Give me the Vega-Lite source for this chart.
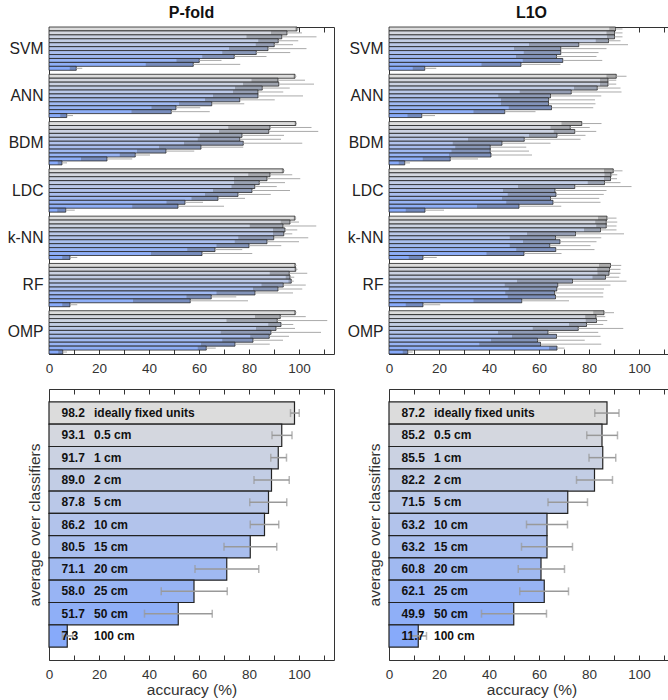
{
  "$schema": "https://vega.github.io/schema/vega-lite/v6.json",
  "padding": {"left": 6, "top": 4, "right": 0, "bottom": 0},
  "config": {
    "font": "Liberation Sans",
    "view": {"stroke": "#333", "strokeWidth": 1},
    "axis": {"labelFont": "Liberation Sans", "titleFont": "Liberation Sans", "labelColor": "#333", "titleColor": "#333", "titleFontWeight": "normal", "grid": false, "domainColor": "#333", "tickColor": "#333"},
    "title": {"font": "Liberation Sans", "fontSize": 16, "fontWeight": "bold", "color": "#111", "offset": 6}
  },
  "datasets": {
    "top": [
      {"panel":"P-fold","clf":"SVM","cond":"ideally fixed units","acc":99.2,"lo":98.5,"hi":99.9},
      {"panel":"P-fold","clf":"SVM","cond":"0.5 cm","acc":95.2,"lo":88.8,"hi":101.2},
      {"panel":"P-fold","clf":"SVM","cond":"1 cm","acc":93.1,"lo":79,"hi":107},
      {"panel":"P-fold","clf":"SVM","cond":"2 cm","acc":91.7,"lo":83.7,"hi":99.7},
      {"panel":"P-fold","clf":"SVM","cond":"5 cm","acc":90.1,"lo":82.7,"hi":97.6},
      {"panel":"P-fold","clf":"SVM","cond":"10 cm","acc":87.6,"lo":72,"hi":103},
      {"panel":"P-fold","clf":"SVM","cond":"15 cm","acc":82.9,"lo":69.3,"hi":96.5},
      {"panel":"P-fold","clf":"SVM","cond":"20 cm","acc":74.1,"lo":61.3,"hi":87},
      {"panel":"P-fold","clf":"SVM","cond":"25 cm","acc":60.1,"lo":51,"hi":69},
      {"panel":"P-fold","clf":"SVM","cond":"50 cm","acc":57.7,"lo":38.7,"hi":76.5},
      {"panel":"P-fold","clf":"SVM","cond":"100 cm","acc":10.9,"lo":8.3,"hi":13.3},
      {"panel":"P-fold","clf":"ANN","cond":"ideally fixed units","acc":98.4,"lo":97.8,"hi":99},
      {"panel":"P-fold","clf":"ANN","cond":"0.5 cm","acc":91.6,"lo":81,"hi":102.4},
      {"panel":"P-fold","clf":"ANN","cond":"1 cm","acc":91.9,"lo":77.6,"hi":106},
      {"panel":"P-fold","clf":"ANN","cond":"2 cm","acc":85.3,"lo":74.4,"hi":96.3},
      {"panel":"P-fold","clf":"ANN","cond":"5 cm","acc":83.6,"lo":73.6,"hi":93.7},
      {"panel":"P-fold","clf":"ANN","cond":"10 cm","acc":83.6,"lo":65.6,"hi":101.6},
      {"panel":"P-fold","clf":"ANN","cond":"15 cm","acc":76.3,"lo":62.4,"hi":90.3},
      {"panel":"P-fold","clf":"ANN","cond":"20 cm","acc":65.1,"lo":52,"hi":78.1},
      {"panel":"P-fold","clf":"ANN","cond":"25 cm","acc":50.8,"lo":41,"hi":60.5},
      {"panel":"P-fold","clf":"ANN","cond":"50 cm","acc":48.9,"lo":33,"hi":64.3},
      {"panel":"P-fold","clf":"ANN","cond":"100 cm","acc":7.1,"lo":4.5,"hi":9.6},
      {"panel":"P-fold","clf":"BDM","cond":"ideally fixed units","acc":98.7,"lo":98.2,"hi":99.2},
      {"panel":"P-fold","clf":"BDM","cond":"0.5 cm","acc":88.4,"lo":71.7,"hi":105},
      {"panel":"P-fold","clf":"BDM","cond":"1 cm","acc":87.9,"lo":68,"hi":107.7},
      {"panel":"P-fold","clf":"BDM","cond":"2 cm","acc":77.2,"lo":60.3,"hi":94},
      {"panel":"P-fold","clf":"BDM","cond":"5 cm","acc":76.3,"lo":59.5,"hi":92.8},
      {"panel":"P-fold","clf":"BDM","cond":"10 cm","acc":77.7,"lo":54,"hi":101.3},
      {"panel":"P-fold","clf":"BDM","cond":"15 cm","acc":60.8,"lo":44,"hi":77.7},
      {"panel":"P-fold","clf":"BDM","cond":"20 cm","acc":46.8,"lo":35.2,"hi":58.1},
      {"panel":"P-fold","clf":"BDM","cond":"25 cm","acc":34.5,"lo":28.3,"hi":40.4},
      {"panel":"P-fold","clf":"BDM","cond":"50 cm","acc":23.2,"lo":12.8,"hi":33.3},
      {"panel":"P-fold","clf":"BDM","cond":"100 cm","acc":5.2,"lo":3.5,"hi":7.2},
      {"panel":"P-fold","clf":"LDC","cond":"ideally fixed units","acc":93.7,"lo":93.1,"hi":94.3},
      {"panel":"P-fold","clf":"LDC","cond":"0.5 cm","acc":88.4,"lo":79.7,"hi":97.3},
      {"panel":"P-fold","clf":"LDC","cond":"1 cm","acc":87.2,"lo":74,"hi":100.5},
      {"panel":"P-fold","clf":"LDC","cond":"2 cm","acc":84.1,"lo":74,"hi":94.4},
      {"panel":"P-fold","clf":"LDC","cond":"5 cm","acc":82.3,"lo":73,"hi":91.1},
      {"panel":"P-fold","clf":"LDC","cond":"10 cm","acc":81.2,"lo":65.6,"hi":96.4},
      {"panel":"P-fold","clf":"LDC","cond":"15 cm","acc":75.6,"lo":62.4,"hi":88.7},
      {"panel":"P-fold","clf":"LDC","cond":"20 cm","acc":67.6,"lo":57,"hi":78.4},
      {"panel":"P-fold","clf":"LDC","cond":"25 cm","acc":54.4,"lo":47,"hi":61.6},
      {"panel":"P-fold","clf":"LDC","cond":"50 cm","acc":51.6,"lo":33.3,"hi":70},
      {"panel":"P-fold","clf":"LDC","cond":"100 cm","acc":6.7,"lo":3.3,"hi":10.3},
      {"panel":"P-fold","clf":"k-NN","cond":"ideally fixed units","acc":98.4,"lo":97.9,"hi":98.9},
      {"panel":"P-fold","clf":"k-NN","cond":"0.5 cm","acc":96.4,"lo":92.7,"hi":100},
      {"panel":"P-fold","clf":"k-NN","cond":"1 cm","acc":93.6,"lo":80.3,"hi":106.9},
      {"panel":"P-fold","clf":"k-NN","cond":"2 cm","acc":94.4,"lo":89.6,"hi":99.3},
      {"panel":"P-fold","clf":"k-NN","cond":"5 cm","acc":93.9,"lo":89.6,"hi":97.3},
      {"panel":"P-fold","clf":"k-NN","cond":"10 cm","acc":89.9,"lo":75.7,"hi":103.7},
      {"panel":"P-fold","clf":"k-NN","cond":"15 cm","acc":87.2,"lo":74.3,"hi":100},
      {"panel":"P-fold","clf":"k-NN","cond":"20 cm","acc":80,"lo":67,"hi":92.9},
      {"panel":"P-fold","clf":"k-NN","cond":"25 cm","acc":66.4,"lo":55.3,"hi":77.3},
      {"panel":"P-fold","clf":"k-NN","cond":"50 cm","acc":61.2,"lo":40.8,"hi":81.3},
      {"panel":"P-fold","clf":"k-NN","cond":"100 cm","acc":8.4,"lo":5.3,"hi":11.3},
      {"panel":"P-fold","clf":"RF","cond":"ideally fixed units","acc":98.5,"lo":98,"hi":99},
      {"panel":"P-fold","clf":"RF","cond":"0.5 cm","acc":98.7,"lo":98.1,"hi":99.4},
      {"panel":"P-fold","clf":"RF","cond":"1 cm","acc":96.1,"lo":88.3,"hi":103.3},
      {"panel":"P-fold","clf":"RF","cond":"2 cm","acc":96.4,"lo":94.7,"hi":98.1},
      {"panel":"P-fold","clf":"RF","cond":"5 cm","acc":96.9,"lo":95.8,"hi":97.9},
      {"panel":"P-fold","clf":"RF","cond":"10 cm","acc":93.7,"lo":85,"hi":102.7},
      {"panel":"P-fold","clf":"RF","cond":"15 cm","acc":91.6,"lo":81.6,"hi":101.3},
      {"panel":"P-fold","clf":"RF","cond":"20 cm","acc":82.4,"lo":67,"hi":97.6},
      {"panel":"P-fold","clf":"RF","cond":"25 cm","acc":64.9,"lo":55,"hi":74.9},
      {"panel":"P-fold","clf":"RF","cond":"50 cm","acc":56.5,"lo":33.6,"hi":79.6},
      {"panel":"P-fold","clf":"RF","cond":"100 cm","acc":8.4,"lo":5.3,"hi":11.3},
      {"panel":"P-fold","clf":"OMP","cond":"ideally fixed units","acc":98.5,"lo":98,"hi":99},
      {"panel":"P-fold","clf":"OMP","cond":"0.5 cm","acc":92.5,"lo":82.4,"hi":102.7},
      {"panel":"P-fold","clf":"OMP","cond":"1 cm","acc":91.3,"lo":71,"hi":111.3},
      {"panel":"P-fold","clf":"OMP","cond":"2 cm","acc":92.8,"lo":87.7,"hi":97.7},
      {"panel":"P-fold","clf":"OMP","cond":"5 cm","acc":90.8,"lo":82.8,"hi":98.4},
      {"panel":"P-fold","clf":"OMP","cond":"10 cm","acc":88.8,"lo":68.7,"hi":108.8},
      {"panel":"P-fold","clf":"OMP","cond":"15 cm","acc":88.1,"lo":80.5,"hi":96},
      {"panel":"P-fold","clf":"OMP","cond":"20 cm","acc":81.6,"lo":69.3,"hi":93.6},
      {"panel":"P-fold","clf":"OMP","cond":"25 cm","acc":74.4,"lo":60.8,"hi":88.3},
      {"panel":"P-fold","clf":"OMP","cond":"50 cm","acc":62.9,"lo":59.5,"hi":66.7},
      {"panel":"P-fold","clf":"OMP","cond":"100 cm","acc":5.5,"lo":3.7,"hi":7.2},
      {"panel":"L1O","clf":"SVM","cond":"ideally fixed units","acc":90.6,"lo":88.1,"hi":93.4},
      {"panel":"L1O","clf":"SVM","cond":"0.5 cm","acc":90.2,"lo":87,"hi":93.4},
      {"panel":"L1O","clf":"SVM","cond":"1 cm","acc":90.2,"lo":87.2,"hi":93.4},
      {"panel":"L1O","clf":"SVM","cond":"2 cm","acc":87.8,"lo":82.7,"hi":92.6},
      {"panel":"L1O","clf":"SVM","cond":"5 cm","acc":75.9,"lo":56,"hi":95.6},
      {"panel":"L1O","clf":"SVM","cond":"10 cm","acc":68.7,"lo":50,"hi":87},
      {"panel":"L1O","clf":"SVM","cond":"15 cm","acc":68.7,"lo":53.9,"hi":83.8},
      {"panel":"L1O","clf":"SVM","cond":"20 cm","acc":67,"lo":50.8,"hi":83},
      {"panel":"L1O","clf":"SVM","cond":"25 cm","acc":69.5,"lo":53.5,"hi":85.3},
      {"panel":"L1O","clf":"SVM","cond":"50 cm","acc":52.8,"lo":37,"hi":68.6},
      {"panel":"L1O","clf":"SVM","cond":"100 cm","acc":14.3,"lo":9.5,"hi":18.9},
      {"panel":"L1O","clf":"ANN","cond":"ideally fixed units","acc":90.9,"lo":87,"hi":95},
      {"panel":"L1O","clf":"ANN","cond":"0.5 cm","acc":87.6,"lo":84.4,"hi":90.9},
      {"panel":"L1O","clf":"ANN","cond":"1 cm","acc":87.6,"lo":84.4,"hi":90.9},
      {"panel":"L1O","clf":"ANN","cond":"2 cm","acc":83.3,"lo":74,"hi":92.6},
      {"panel":"L1O","clf":"ANN","cond":"5 cm","acc":72.9,"lo":52.3,"hi":93},
      {"panel":"L1O","clf":"ANN","cond":"10 cm","acc":64.6,"lo":43.7,"hi":84.9},
      {"panel":"L1O","clf":"ANN","cond":"15 cm","acc":63.8,"lo":44.8,"hi":82.4},
      {"panel":"L1O","clf":"ANN","cond":"20 cm","acc":63.8,"lo":44.8,"hi":82.6},
      {"panel":"L1O","clf":"ANN","cond":"25 cm","acc":65,"lo":47.9,"hi":81.7},
      {"panel":"L1O","clf":"ANN","cond":"50 cm","acc":46.3,"lo":33.8,"hi":58.6},
      {"panel":"L1O","clf":"ANN","cond":"100 cm","acc":13.1,"lo":7.4,"hi":18.4},
      {"panel":"L1O","clf":"BDM","cond":"ideally fixed units","acc":77.1,"lo":69,"hi":85},
      {"panel":"L1O","clf":"BDM","cond":"0.5 cm","acc":72.5,"lo":64.6,"hi":80.3},
      {"panel":"L1O","clf":"BDM","cond":"1 cm","acc":74.3,"lo":65.9,"hi":82.9},
      {"panel":"L1O","clf":"BDM","cond":"2 cm","acc":67.2,"lo":56,"hi":78.6},
      {"panel":"L1O","clf":"BDM","cond":"5 cm","acc":54.1,"lo":31.6,"hi":76.6},
      {"panel":"L1O","clf":"BDM","cond":"10 cm","acc":45.2,"lo":25.5,"hi":64.6},
      {"panel":"L1O","clf":"BDM","cond":"15 cm","acc":40.5,"lo":26.5,"hi":54.9},
      {"panel":"L1O","clf":"BDM","cond":"20 cm","acc":40.5,"lo":25,"hi":56},
      {"panel":"L1O","clf":"BDM","cond":"25 cm","acc":40.8,"lo":24,"hi":57.2},
      {"panel":"L1O","clf":"BDM","cond":"50 cm","acc":24.5,"lo":13.5,"hi":35.6},
      {"panel":"L1O","clf":"BDM","cond":"100 cm","acc":6.3,"lo":3.9,"hi":8.4},
      {"panel":"L1O","clf":"LDC","cond":"ideally fixed units","acc":89.7,"lo":86,"hi":93.4},
      {"panel":"L1O","clf":"LDC","cond":"0.5 cm","acc":88.8,"lo":86.2,"hi":91.3},
      {"panel":"L1O","clf":"LDC","cond":"1 cm","acc":88.6,"lo":86,"hi":91.2},
      {"panel":"L1O","clf":"LDC","cond":"2 cm","acc":86.2,"lo":79.5,"hi":92.6},
      {"panel":"L1O","clf":"LDC","cond":"5 cm","acc":74.3,"lo":51.6,"hi":97},
      {"panel":"L1O","clf":"LDC","cond":"10 cm","acc":66.4,"lo":45.6,"hi":87},
      {"panel":"L1O","clf":"LDC","cond":"15 cm","acc":66.8,"lo":47.5,"hi":85.9},
      {"panel":"L1O","clf":"LDC","cond":"20 cm","acc":64.6,"lo":45.2,"hi":84.1},
      {"panel":"L1O","clf":"LDC","cond":"25 cm","acc":65.6,"lo":46.9,"hi":84.6},
      {"panel":"L1O","clf":"LDC","cond":"50 cm","acc":52,"lo":35.2,"hi":68.9},
      {"panel":"L1O","clf":"LDC","cond":"100 cm","acc":14.4,"lo":6.7,"hi":22},
      {"panel":"L1O","clf":"k-NN","cond":"ideally fixed units","acc":87.2,"lo":83.6,"hi":91},
      {"panel":"L1O","clf":"k-NN","cond":"0.5 cm","acc":86.9,"lo":82.5,"hi":91.3},
      {"panel":"L1O","clf":"k-NN","cond":"1 cm","acc":86.9,"lo":82.9,"hi":91},
      {"panel":"L1O","clf":"k-NN","cond":"2 cm","acc":84.6,"lo":78,"hi":91},
      {"panel":"L1O","clf":"k-NN","cond":"5 cm","acc":74.6,"lo":55.2,"hi":94},
      {"panel":"L1O","clf":"k-NN","cond":"10 cm","acc":66.6,"lo":48.3,"hi":84.9},
      {"panel":"L1O","clf":"k-NN","cond":"15 cm","acc":68.4,"lo":53.6,"hi":83},
      {"panel":"L1O","clf":"k-NN","cond":"20 cm","acc":64.3,"lo":48.3,"hi":80.6},
      {"panel":"L1O","clf":"k-NN","cond":"25 cm","acc":66.7,"lo":50.9,"hi":82.2},
      {"panel":"L1O","clf":"k-NN","cond":"50 cm","acc":54,"lo":39,"hi":69},
      {"panel":"L1O","clf":"k-NN","cond":"100 cm","acc":13.6,"lo":7.9,"hi":19.1},
      {"panel":"L1O","clf":"RF","cond":"ideally fixed units","acc":88.6,"lo":84,"hi":92.9},
      {"panel":"L1O","clf":"RF","cond":"0.5 cm","acc":88.2,"lo":83.3,"hi":92.6},
      {"panel":"L1O","clf":"RF","cond":"1 cm","acc":88,"lo":83.4,"hi":92.6},
      {"panel":"L1O","clf":"RF","cond":"2 cm","acc":86.6,"lo":81.4,"hi":92.1},
      {"panel":"L1O","clf":"RF","cond":"5 cm","acc":73.4,"lo":51.2,"hi":95},
      {"panel":"L1O","clf":"RF","cond":"10 cm","acc":67.5,"lo":46.3,"hi":88.6},
      {"panel":"L1O","clf":"RF","cond":"15 cm","acc":67.1,"lo":47.9,"hi":86},
      {"panel":"L1O","clf":"RF","cond":"20 cm","acc":66.2,"lo":46.5,"hi":85.7},
      {"panel":"L1O","clf":"RF","cond":"25 cm","acc":66.6,"lo":47.5,"hi":85.7},
      {"panel":"L1O","clf":"RF","cond":"50 cm","acc":53.1,"lo":33.8,"hi":72},
      {"panel":"L1O","clf":"RF","cond":"100 cm","acc":13.6,"lo":6.7,"hi":20.5},
      {"panel":"L1O","clf":"OMP","cond":"ideally fixed units","acc":86,"lo":81.7,"hi":90},
      {"panel":"L1O","clf":"OMP","cond":"0.5 cm","acc":82.8,"lo":78.5,"hi":86.5},
      {"panel":"L1O","clf":"OMP","cond":"1 cm","acc":83,"lo":78.7,"hi":87.3},
      {"panel":"L1O","clf":"OMP","cond":"2 cm","acc":79,"lo":72,"hi":85.7},
      {"panel":"L1O","clf":"OMP","cond":"5 cm","acc":75.7,"lo":57.5,"hi":93.7},
      {"panel":"L1O","clf":"OMP","cond":"10 cm","acc":63.6,"lo":43.6,"hi":83.7},
      {"panel":"L1O","clf":"OMP","cond":"15 cm","acc":67,"lo":49.2,"hi":84.6},
      {"panel":"L1O","clf":"OMP","cond":"20 cm","acc":59.4,"lo":40.8,"hi":78.3},
      {"panel":"L1O","clf":"OMP","cond":"25 cm","acc":60.6,"lo":36.1,"hi":84.9},
      {"panel":"L1O","clf":"OMP","cond":"50 cm","acc":67.2,"lo":64,"hi":70.2},
      {"panel":"L1O","clf":"OMP","cond":"100 cm","acc":7.5,"lo":5.5,"hi":9.5}
    ],
    "avg": [
      {"panel":"P-fold","cond":"ideally fixed units","acc":98.2,"lo":96.6,"hi":100.1},
      {"panel":"P-fold","cond":"0.5 cm","acc":93.1,"lo":89.2,"hi":97.2},
      {"panel":"P-fold","cond":"1 cm","acc":91.7,"lo":88.7,"hi":95},
      {"panel":"P-fold","cond":"2 cm","acc":89.0,"lo":82,"hi":96.1},
      {"panel":"P-fold","cond":"5 cm","acc":87.8,"lo":80.3,"hi":95.1},
      {"panel":"P-fold","cond":"10 cm","acc":86.2,"lo":80.5,"hi":91.9},
      {"panel":"P-fold","cond":"15 cm","acc":80.5,"lo":70,"hi":91.1},
      {"panel":"P-fold","cond":"20 cm","acc":71.1,"lo":58.4,"hi":83.9},
      {"panel":"P-fold","cond":"25 cm","acc":58.0,"lo":44.9,"hi":71.3},
      {"panel":"P-fold","cond":"50 cm","acc":51.7,"lo":38.2,"hi":65.3},
      {"panel":"P-fold","cond":"100 cm","acc":7.3,"lo":5.3,"hi":9.5},
      {"panel":"L1O","cond":"ideally fixed units","acc":87.2,"lo":82.3,"hi":92},
      {"panel":"L1O","cond":"0.5 cm","acc":85.2,"lo":79.1,"hi":91.4},
      {"panel":"L1O","cond":"1 cm","acc":85.5,"lo":80,"hi":90.7},
      {"panel":"L1O","cond":"2 cm","acc":82.2,"lo":75,"hi":89.4},
      {"panel":"L1O","cond":"5 cm","acc":71.5,"lo":63.6,"hi":79.4},
      {"panel":"L1O","cond":"10 cm","acc":63.2,"lo":55,"hi":71.4},
      {"panel":"L1O","cond":"15 cm","acc":63.2,"lo":53,"hi":73.4},
      {"panel":"L1O","cond":"20 cm","acc":60.8,"lo":51.7,"hi":70.2},
      {"panel":"L1O","cond":"25 cm","acc":62.1,"lo":52.3,"hi":71.8},
      {"panel":"L1O","cond":"50 cm","acc":49.9,"lo":37,"hi":63},
      {"panel":"L1O","cond":"100 cm","acc":11.7,"lo":8.2,"hi":15}
    ]
  },
  "columns": 2,
  "spacing": {"row": 13, "column": 11},
  "concat": [
    {
      "width": 285, "height": 327,
      "title": {"text": "P-fold"},
      "data": {"name": "top"},
      "transform": [{"filter": "datum.panel == 'P-fold'"}],
      "encoding": {
        "y": {"field": "clf", "type": "nominal", "sort": ["SVM","ANN","BDM","LDC","k-NN","RF","OMP"], "scale": {"paddingInner": 0.085, "paddingOuter": 0}, "axis": {"title": null, "ticks": false, "domain": false, "labelPadding": 6, "labelFontSize": 15.7, "labelColor": "#222"}},
        "yOffset": {"field": "cond", "type": "nominal", "sort": ["ideally fixed units","0.5 cm","1 cm","2 cm","5 cm","10 cm","15 cm","20 cm","25 cm","50 cm","100 cm"], "scale": {"paddingInner": 0, "paddingOuter": 0}}
      },
      "layer": [
        {"mark": {"type": "bar", "stroke": "#222", "strokeWidth": 0.8},
         "encoding": {
           "x": {"field": "acc", "type": "quantitative", "scale": {"domain": [0, 114], "nice": false}, "axis": {"title": null, "values": [0,10,20,30,40,50,60,70,80,90,100,110], "labelExpr": "datum.value % 20 === 0 ? datum.label : ''", "tickSize": -5, "domain": false, "labelPadding": 12, "labelFontSize": 13.5, "labelOverlap": false, "labelFlush": false}},
           "color": {"field": "cond", "type": "nominal", "scale": {"domain": ["ideally fixed units","0.5 cm","1 cm","2 cm","5 cm","10 cm","15 cm","20 cm","25 cm","50 cm","100 cm"], "range": ["#dcdcdc","#d4d7df","#cbd2e2","#c2cde5","#bac8e8","#b2c3eb","#a9beee","#a0b9f1","#98b4f4","#8fafF7","#87aafa"]}, "legend": null}
         }},
        {"mark": {"type": "bar", "color": "#444", "opacity": 0.32},
         "encoding": {
           "x": {"field": "lo", "type": "quantitative", "scale": {"domain": [0, 114], "nice": false}, "axis": {"orient": "top", "title": null, "labels": false, "values": [0,10,20,30,40,50,60,70,80,90,100,110], "tickSize": -5, "domain": false}},
           "x2": {"field": "acc"}
         }},
        {"mark": {"type": "rule", "color": "#aaa", "strokeWidth": 1},
         "encoding": {
           "x": {"field": "acc", "type": "quantitative", "scale": {"domain": [0, 114], "nice": false}, "axis": null},
           "x2": {"field": "hi"}
         }}
      ],
      "resolve": {"axis": {"x": "independent"}}
    },
    {
      "width": 285, "height": 327,
      "title": {"text": "L1O"},
      "data": {"name": "top"},
      "transform": [{"filter": "datum.panel == 'L1O'"}],
      "encoding": {
        "y": {"field": "clf", "type": "nominal", "sort": ["SVM","ANN","BDM","LDC","k-NN","RF","OMP"], "scale": {"paddingInner": 0.085, "paddingOuter": 0}, "axis": {"title": null, "ticks": false, "domain": false, "labelPadding": 6, "labelFontSize": 15.7, "labelColor": "#222"}},
        "yOffset": {"field": "cond", "type": "nominal", "sort": ["ideally fixed units","0.5 cm","1 cm","2 cm","5 cm","10 cm","15 cm","20 cm","25 cm","50 cm","100 cm"], "scale": {"paddingInner": 0, "paddingOuter": 0}}
      },
      "layer": [
        {"mark": {"type": "bar", "stroke": "#222", "strokeWidth": 0.8},
         "encoding": {
           "x": {"field": "acc", "type": "quantitative", "scale": {"domain": [0, 114], "nice": false}, "axis": {"title": null, "values": [0,10,20,30,40,50,60,70,80,90,100,110], "labelExpr": "datum.value % 20 === 0 ? datum.label : ''", "tickSize": -5, "domain": false, "labelPadding": 12, "labelFontSize": 13.5, "labelOverlap": false, "labelFlush": false}},
           "color": {"field": "cond", "type": "nominal", "scale": {"domain": ["ideally fixed units","0.5 cm","1 cm","2 cm","5 cm","10 cm","15 cm","20 cm","25 cm","50 cm","100 cm"], "range": ["#dcdcdc","#d4d7df","#cbd2e2","#c2cde5","#bac8e8","#b2c3eb","#a9beee","#a0b9f1","#98b4f4","#8fafF7","#87aafa"]}, "legend": null}
         }},
        {"mark": {"type": "bar", "color": "#444", "opacity": 0.32},
         "encoding": {
           "x": {"field": "lo", "type": "quantitative", "scale": {"domain": [0, 114], "nice": false}, "axis": {"orient": "top", "title": null, "labels": false, "values": [0,10,20,30,40,50,60,70,80,90,100,110], "tickSize": -5, "domain": false}},
           "x2": {"field": "acc"}
         }},
        {"mark": {"type": "rule", "color": "#aaa", "strokeWidth": 1},
         "encoding": {
           "x": {"field": "acc", "type": "quantitative", "scale": {"domain": [0, 114], "nice": false}, "axis": null},
           "x2": {"field": "hi"}
         }}
      ],
      "resolve": {"axis": {"x": "independent"}}
    },
    {
      "width": 285, "height": 271,
      "data": {"name": "avg"},
      "transform": [{"filter": "datum.panel == 'P-fold'"}],
      "encoding": {
        "y": {"field": "cond", "type": "nominal", "sort": ["ideally fixed units","0.5 cm","1 cm","2 cm","5 cm","10 cm","15 cm","20 cm","25 cm","50 cm","100 cm"], "scale": {"paddingInner": 0, "paddingOuter": 0.58}, "axis": {"title": "average over classifiers", "labels": false, "ticks": false, "domain": false, "titleFontSize": 15.5, "titlePadding": 7}}
      },
      "layer": [
        {"mark": {"type": "bar", "stroke": "#222", "strokeWidth": 1.2},
         "encoding": {
           "x": {"field": "acc", "type": "quantitative", "scale": {"domain": [0, 114], "nice": false}, "axis": {"title": "accuracy (%)", "titleFontSize": 15.5, "titlePadding": 2, "values": [0,10,20,30,40,50,60,70,80,90,100,110], "labelExpr": "datum.value % 20 === 0 ? datum.label : ''", "tickSize": -5, "domain": false, "labelPadding": 12, "labelFontSize": 13.5, "labelOverlap": false, "labelFlush": false}},
           "color": {"field": "cond", "type": "nominal", "scale": {"domain": ["ideally fixed units","0.5 cm","1 cm","2 cm","5 cm","10 cm","15 cm","20 cm","25 cm","50 cm","100 cm"], "range": ["#dcdcdc","#d4d7df","#cbd2e2","#c2cde5","#bac8e8","#b2c3eb","#a9beee","#a0b9f1","#98b4f4","#8fafF7","#87aafa"]}, "legend": null}
         }},
        {"mark": {"type": "rule", "color": "#999", "strokeWidth": 1.5},
         "encoding": {
           "x": {"field": "lo", "type": "quantitative", "scale": {"domain": [0, 114], "nice": false}, "axis": {"orient": "top", "title": null, "labels": false, "values": [0,10,20,30,40,50,60,70,80,90,100,110], "tickSize": -5, "domain": false}},
           "x2": {"field": "hi"}
         }},
        {"mark": {"type": "tick", "color": "#999", "thickness": 1.5, "size": 8, "orient": "vertical"},
         "encoding": {"x": {"field": "lo", "type": "quantitative", "scale": {"domain": [0, 114], "nice": false}, "axis": null}}},
        {"mark": {"type": "tick", "color": "#999", "thickness": 1.5, "size": 8, "orient": "vertical"},
         "encoding": {"x": {"field": "hi", "type": "quantitative", "scale": {"domain": [0, 114], "nice": false}, "axis": null}}},
        {"mark": {"type": "text", "align": "left", "baseline": "middle", "fontWeight": "bold", "fontSize": 12, "color": "#111"},
         "encoding": {"x": {"datum": 5, "type": "quantitative", "scale": {"domain": [0, 114], "nice": false}, "axis": null}, "text": {"field": "acc", "type": "quantitative", "format": ".1f"}}},
        {"mark": {"type": "text", "align": "left", "baseline": "middle", "fontWeight": "bold", "fontSize": 12, "color": "#111"},
         "encoding": {"x": {"datum": 18, "type": "quantitative", "scale": {"domain": [0, 114], "nice": false}, "axis": null}, "text": {"field": "cond", "type": "nominal"}}}
      ],
      "resolve": {"axis": {"x": "independent"}}
    },
    {
      "width": 285, "height": 271,
      "data": {"name": "avg"},
      "transform": [{"filter": "datum.panel == 'L1O'"}],
      "encoding": {
        "y": {"field": "cond", "type": "nominal", "sort": ["ideally fixed units","0.5 cm","1 cm","2 cm","5 cm","10 cm","15 cm","20 cm","25 cm","50 cm","100 cm"], "scale": {"paddingInner": 0, "paddingOuter": 0.58}, "axis": {"title": "average over classifiers", "labels": false, "ticks": false, "domain": false, "titleFontSize": 15.5, "titlePadding": 7}}
      },
      "layer": [
        {"mark": {"type": "bar", "stroke": "#222", "strokeWidth": 1.2},
         "encoding": {
           "x": {"field": "acc", "type": "quantitative", "scale": {"domain": [0, 114], "nice": false}, "axis": {"title": "accuracy (%)", "titleFontSize": 15.5, "titlePadding": 2, "values": [0,10,20,30,40,50,60,70,80,90,100,110], "labelExpr": "datum.value % 20 === 0 ? datum.label : ''", "tickSize": -5, "domain": false, "labelPadding": 12, "labelFontSize": 13.5, "labelOverlap": false, "labelFlush": false}},
           "color": {"field": "cond", "type": "nominal", "scale": {"domain": ["ideally fixed units","0.5 cm","1 cm","2 cm","5 cm","10 cm","15 cm","20 cm","25 cm","50 cm","100 cm"], "range": ["#dcdcdc","#d4d7df","#cbd2e2","#c2cde5","#bac8e8","#b2c3eb","#a9beee","#a0b9f1","#98b4f4","#8fafF7","#87aafa"]}, "legend": null}
         }},
        {"mark": {"type": "rule", "color": "#999", "strokeWidth": 1.5},
         "encoding": {
           "x": {"field": "lo", "type": "quantitative", "scale": {"domain": [0, 114], "nice": false}, "axis": {"orient": "top", "title": null, "labels": false, "values": [0,10,20,30,40,50,60,70,80,90,100,110], "tickSize": -5, "domain": false}},
           "x2": {"field": "hi"}
         }},
        {"mark": {"type": "tick", "color": "#999", "thickness": 1.5, "size": 8, "orient": "vertical"},
         "encoding": {"x": {"field": "lo", "type": "quantitative", "scale": {"domain": [0, 114], "nice": false}, "axis": null}}},
        {"mark": {"type": "tick", "color": "#999", "thickness": 1.5, "size": 8, "orient": "vertical"},
         "encoding": {"x": {"field": "hi", "type": "quantitative", "scale": {"domain": [0, 114], "nice": false}, "axis": null}}},
        {"mark": {"type": "text", "align": "left", "baseline": "middle", "fontWeight": "bold", "fontSize": 12, "color": "#111"},
         "encoding": {"x": {"datum": 5, "type": "quantitative", "scale": {"domain": [0, 114], "nice": false}, "axis": null}, "text": {"field": "acc", "type": "quantitative", "format": ".1f"}}},
        {"mark": {"type": "text", "align": "left", "baseline": "middle", "fontWeight": "bold", "fontSize": 12, "color": "#111"},
         "encoding": {"x": {"datum": 18, "type": "quantitative", "scale": {"domain": [0, 114], "nice": false}, "axis": null}, "text": {"field": "cond", "type": "nominal"}}}
      ],
      "resolve": {"axis": {"x": "independent"}}
    }
  ]
}
